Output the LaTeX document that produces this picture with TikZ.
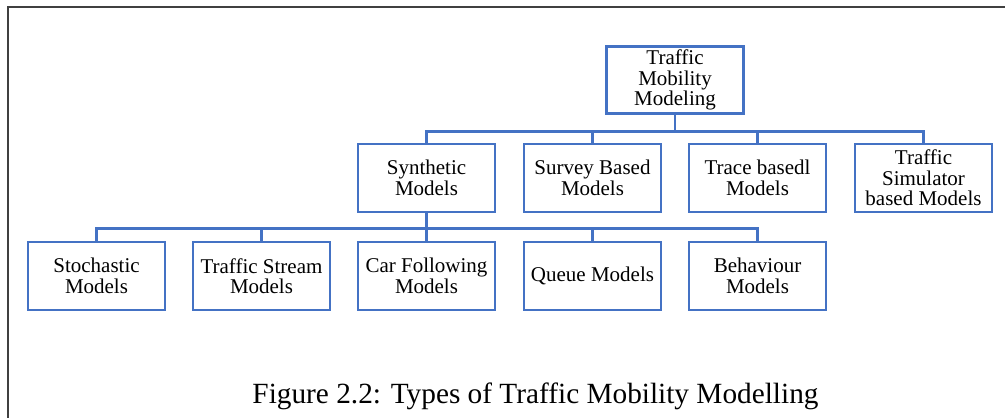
\documentclass[tikz,border=0pt]{standalone}
\usepackage{fontspec}
\setmainfont{Liberation Serif}
\definecolor{boxblue}{HTML}{4472C4}
\definecolor{framegray}{HTML}{404040}
\begin{document}
\begin{tikzpicture}[x=1pt,y=-1pt,
  modelbox/.style={draw=boxblue, line width=2.6pt, minimum width=137pt, minimum height=68pt,
    inner sep=0pt, align=center, font=\fontsize{21}{20.5}\selectfont, text=black},
  link/.style={draw=boxblue, line width=2.4pt}]
\useasboundingbox (0,0) rectangle (1005,418);
\draw[framegray, line width=2pt] (8,418) -- (8,7) -- (1005,7);
% top
\node[modelbox, minimum height=67pt] (top) at (675,80) {Traffic\\Mobility\\Modeling};
% level 2
\node[modelbox] (syn) at (426.5,178) {Synthetic\\Models};
\node[modelbox] (sur) at (592.5,178) {Survey Based\\Models};
\node[modelbox] (tra) at (757.5,178) {Trace basedl\\Models};
\node[modelbox] (sim) at (923.5,178) {Traffic\\Simulator\\based Models};
% level 3
\node[modelbox] (sto) at (96.5,276) {Stochastic\\Models};
\node[modelbox] (str) at (261.5,276) {Traffic Stream\\Models};
\node[modelbox] (car) at (426.5,276) {Car Following\\Models};
\node[modelbox] (que) at (592.5,276) {Queue Models};
\node[modelbox] (beh) at (757.5,276) {Behaviour\\Models};
% connectors
\foreach \c in {syn,sur,tra,sim}
  \draw[link] (top.south) -- ++(0,16.5) -| (\c.north);
\foreach \c in {sto,str,car,que,beh}
  \draw[link] (syn.south) -- ++(0,15) -| (\c.north);
% caption
\node[anchor=base, inner sep=0pt, font=\fontsize{29.3}{35}\selectfont] (cap) at (535.5,403)
  {Figure 2.2: Types of Traffic Mobility Modelling};
\end{tikzpicture}
\end{document}
